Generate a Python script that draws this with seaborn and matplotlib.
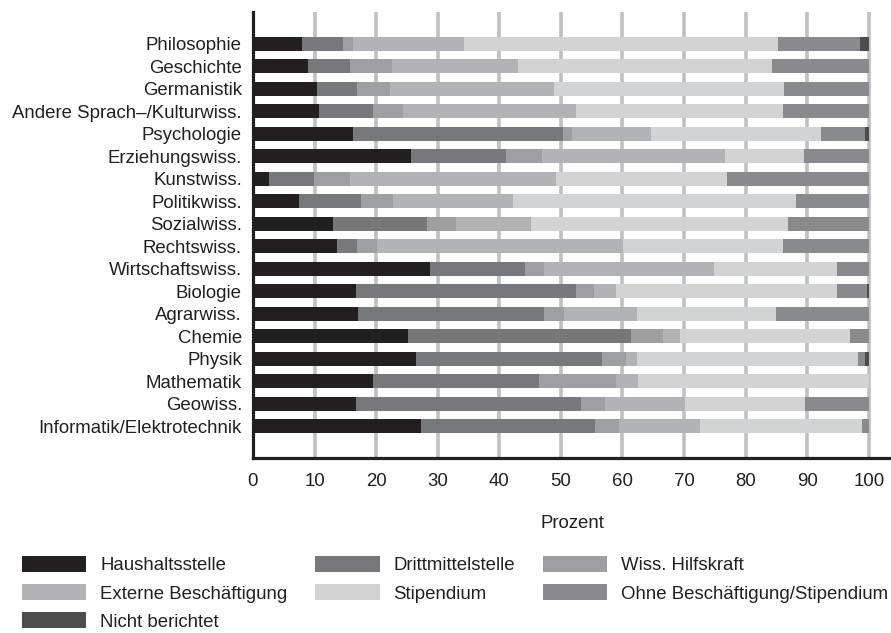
import numpy as np
import pandas as pd
import matplotlib
matplotlib.use('Agg')
import matplotlib.pyplot as plt
from matplotlib.patches import Patch
import seaborn as sns

# data (percent per category)
faecher = ['Philosophie', 'Geschichte', 'Germanistik', 'Andere Sprach–/Kulturwiss.',
           'Psychologie', 'Erziehungswiss.', 'Kunstwiss.', 'Politikwiss.', 'Sozialwiss.',
           'Rechtswiss.', 'Wirtschaftswiss.', 'Biologie', 'Agrarwiss.', 'Chemie',
           'Physik', 'Mathematik', 'Geowiss.', 'Informatik/Elektrotechnik']

haushaltsstelle = [7.9, 8.9, 10.4, 10.7, 16.3, 25.7, 2.6, 7.4, 13.0, 13.7, 28.8, 16.8, 17.0, 25.2, 26.4, 19.5, 16.7, 27.2]
drittmittelstelle = [6.7, 6.8, 6.5, 8.8, 34.0, 15.4, 7.3, 10.2, 15.2, 3.2, 15.3, 35.6, 30.3, 36.1, 30.3, 26.9, 36.5, 28.3]
hilfskraft = [1.6, 6.8, 5.3, 4.8, 1.5, 5.9, 5.8, 5.1, 4.7, 3.2, 3.2, 2.9, 3.2, 5.3, 3.8, 12.5, 3.9, 4.0]
extern = [18.1, 20.6, 26.6, 28.1, 12.9, 29.6, 33.5, 19.6, 12.3, 40.0, 27.5, 3.6, 11.9, 2.8, 1.9, 3.6, 13.1, 13.1]
stipendium = [51.0, 41.1, 37.5, 33.7, 27.5, 12.9, 27.7, 45.9, 41.6, 26.0, 20.0, 35.9, 22.6, 27.5, 35.9, 37.5, 19.5, 26.3]
ohne = [13.2, 15.8, 13.7, 13.9, 7.2, 10.5, 23.1, 11.8, 13.2, 13.9, 5.2, 4.9, 15.0, 3.1, 1.0, 0.0, 10.3, 1.1]
nicht_berichtet = [1.5, 0.0, 0.0, 0.0, 0.6, 0.0, 0.0, 0.0, 0.0, 0.0, 0.0, 0.3, 0.0, 0.0, 0.7, 0.0, 0.0, 0.0]

kategorien = ['Haushaltsstelle', 'Drittmittelstelle', 'Wiss. Hilfskraft', 'Externe Beschäftigung',
              'Stipendium', 'Ohne Beschäftigung/Stipendium', 'Nicht berichtet']
farben = ['#231f20', '#77787b', '#9d9fa2', '#b1b3b6', '#d1d3d4', '#898a8d', '#4d4d4f']

df = pd.DataFrame({
    'Haushaltsstelle': haushaltsstelle,
    'Drittmittelstelle': drittmittelstelle,
    'Wiss. Hilfskraft': hilfskraft,
    'Externe Beschäftigung': extern,
    'Stipendium': stipendium,
    'Ohne Beschäftigung/Stipendium': ohne,
    'Nicht berichtet': nicht_berichtet,
}, index=faecher)
cum = df.cumsum(axis=1)

sns.set_style('white')
plt.rcParams['font.family'] = ['Liberation Sans', 'DejaVu Sans']
plt.rcParams['font.size'] = 13.4

fig = plt.figure(figsize=(8.91, 6.33), dpi=100)
ax = fig.add_axes([253 / 891, 1 - 458 / 633, 638 / 891, 446 / 633])

# stacked bars: draw cumulative sums from the largest down
for kat, farbe in zip(kategorien[::-1], farben[::-1]):
    sns.barplot(x=cum[kat].values, y=faecher, orient='h', color=farbe,
                saturation=1, width=0.62, linewidth=0, ax=ax)

ax.set_xlim(0, 103.6)
ax.set_ylim(len(faecher) - 1 + 1.42, -1.42)
ax.set_xticks(range(0, 101, 10))
ax.set_axisbelow(True)
ax.xaxis.grid(True, color='#bfc0c2', linewidth=2.6)
ax.yaxis.grid(False)

for s in ['top', 'right']:
    ax.spines[s].set_visible(False)
for s in ['left', 'bottom']:
    ax.spines[s].set_color('#231f20')
    ax.spines[s].set_linewidth(2.3)

ax.tick_params(axis='y', length=0, pad=8, labelsize=13.4, colors='#231f20')
ax.tick_params(axis='x', length=6, width=2.3, pad=5, labelsize=13.4,
               color='#231f20', labelcolor='#231f20', direction='out')
ax.set_xlabel('Prozent', fontsize=13.4, labelpad=18, color='#231f20')
ax.set_ylabel('')

# legend filled row-wise (matplotlib fills columns, so reorder)
reihenfolge = [0, 3, 6, 1, 4, 2, 5]
handles = [Patch(facecolor=farben[i], edgecolor='none', label=kategorien[i]) for i in reihenfolge]
fig.legend(handles=handles, loc='upper left', bbox_to_anchor=(22 / 891, 1 - 556 / 633),
           ncol=3, frameon=False, borderpad=0, borderaxespad=0,
           handlelength=3.45, handleheight=0.95, handletextpad=0.75,
           columnspacing=1.5, labelspacing=0.52, fontsize=13.4, labelcolor='#231f20')

fig.savefig('out.png', dpi=100)
